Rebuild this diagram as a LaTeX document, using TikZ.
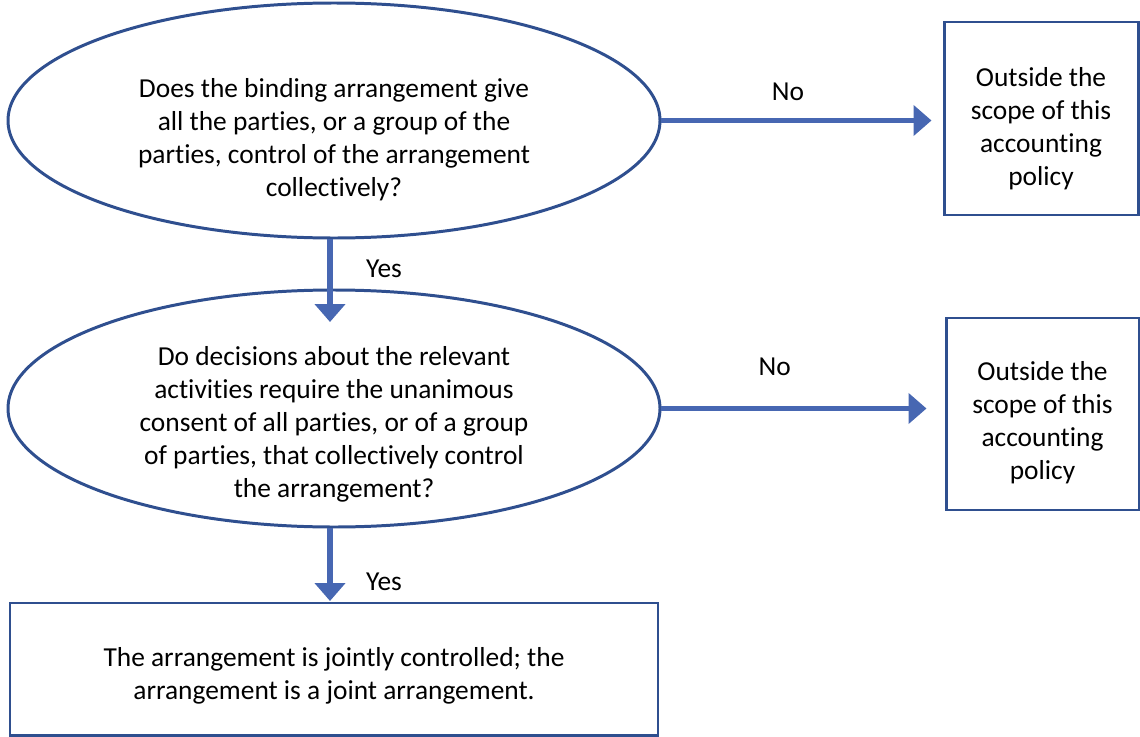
\documentclass[tikz,border=0pt]{standalone}
\usepackage{fontspec}
\setmainfont{Carlito}[Ligatures={NoCommon}]
\usepackage{xcolor}
\usetikzlibrary{shapes.geometric,arrows.meta,positioning}
\definecolor{frameblue}{HTML}{2F4F8F}
\definecolor{arrowblue}{HTML}{4767B2}

\begin{document}
\begin{tikzpicture}[
    x=0.02cm, y=-0.02cm,
    font=\fontsize{15.6}{18.8}\selectfont,
    decision/.style={ellipse, draw=frameblue, line width=1.7pt, inner sep=0pt},
    qtext/.style={align=center, inner sep=0pt},
    result/.style={rectangle, draw=frameblue, line width=1.7pt, align=center, inner sep=0pt},
    arrow/.style={-{Triangle[length=0.36cm,width=0.6cm]}, arrowblue, line width=3.4pt},
    answer/.style={text=black, inner sep=0pt}
]
    \useasboundingbox (0,0) rectangle (1140,737);

    % questions
    \node[decision, minimum width=652*0.02cm, minimum height=235*0.02cm] (q1) at (334,120.5) {};
    \node[qtext] (t1) at (334,140) {Does the binding arrangement give\\all the parties, or a group of the\\parties, control of the arrangement\\collectively?};
    \node[decision, minimum width=652*0.02cm, minimum height=237*0.02cm] (q2) at (334,408.5) {};
    \node[qtext] (t2) at (334,424) {Do decisions about the relevant\\activities require the unanimous\\consent of all parties, or of a group\\of parties, that collectively control\\the arrangement?};

    % outcomes
    \node[result, minimum width=194*0.02cm, minimum height=193*0.02cm] (out1) at (1041,118.5) {};
    \node[qtext] at (1041,128.5) {Outside the\\scope of this\\accounting\\policy};
    \node[result, minimum width=193*0.02cm, minimum height=192*0.02cm] (out2) at (1042.5,414) {};
    \node[qtext] at (1042.5,423) {Outside the\\scope of this\\accounting\\policy};
    \node[result, minimum width=648*0.02cm, minimum height=132*0.02cm] (joint) at (334,669) {};
    \node[qtext] at (334,676) {The arrangement is jointly controlled; the\\arrangement is a joint arrangement.};

    \coordinate (tip1) at (330,322);
    \coordinate (tip2) at (330,601);

    \draw[arrow, shorten >=0.22cm] (q1.east) -- (q1.east -| out1.west) node[answer, pos=0.45, yshift=0.58cm] {No};
    \draw[arrow, shorten >=0.36cm] (q2.east) -- (q2.east -| out2.west) node[answer, pos=0.40, yshift=0.84cm] {No};
    \draw[arrow] (q1.south -| tip1) -- (tip1) node[answer, pos=0.36, xshift=1.08cm] {Yes};
    \draw[arrow] (q2.south -| tip2) -- (tip2) node[answer, pos=0.73, xshift=1.08cm] {Yes};

\end{tikzpicture}
\end{document}
